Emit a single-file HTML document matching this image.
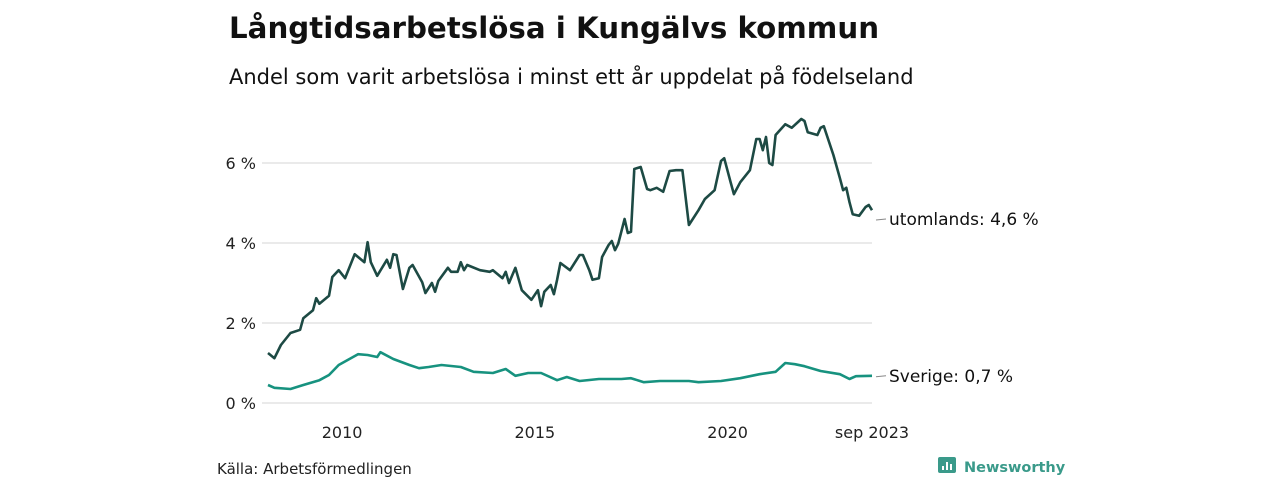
<!DOCTYPE html>
<html><head><meta charset="utf-8"><style>
body{margin:0;width:1280px;height:480px;background:#fff;overflow:hidden;font-family:"Liberation Sans","DejaVu Sans",sans-serif}
svg text{font-family:"DejaVu Sans","Liberation Sans",sans-serif}
</style></head><body>
<svg id="c" width="1280" height="480">
<text x="229" y="38" font-size="29.3" font-weight="bold" fill="#111">Långtidsarbetslösa i Kungälvs kommun</text>
<text x="229" y="84" font-size="21" fill="#111">Andel som varit arbetslösa i minst ett år uppdelat på födelseland</text>
<text x="217" y="474" font-size="15" fill="#222">Källa: Arbetsförmedlingen</text>
<g>
<rect x="938" y="457" width="18" height="16" rx="2" fill="#3a9a8a"/>
<rect x="942" y="466" width="2" height="4" fill="#fff"/><rect x="946" y="462" width="2" height="8" fill="#fff"/><rect x="950" y="464" width="2" height="6" fill="#fff"/>
<text x="964" y="472" font-size="14.5" font-weight="bold" fill="#3a9a8a">Newsworthy</text>
</g>
<g id="grid"></g><g id="lines"></g>
</svg>
<script>
const monthsU=[0,2,4,7,10,11,14,15,16,19,20,22,24,27,30,31,32,34,37,38,39,40,42,44,45,48,49,51,52,53,56,57,59,60,61,62,66,69,70,73,74,75,77,79,82,84,85,86,88,89,90,91,94,97,98,100,101,103,104,106,107,108,109,111,112,113,114,116,118,119,121,123,125,127,129,131,134,136,139,141,142,144,145,147,150,152,153,154,155,156,157,158,161,163,166,167,168,171,172,173,176,178,179,180,181,182,184,186,187,188];
const valuesU=[1.25,1.12,1.45,1.75,1.83,2.12,2.32,2.62,2.48,2.68,3.15,3.32,3.12,3.72,3.52,4.02,3.52,3.18,3.58,3.38,3.72,3.7,2.85,3.38,3.45,3.02,2.75,3.0,2.78,3.05,3.38,3.28,3.28,3.52,3.32,3.45,3.32,3.28,3.32,3.12,3.28,3.0,3.38,2.82,2.58,2.82,2.42,2.78,2.95,2.72,3.08,3.5,3.32,3.7,3.7,3.32,3.08,3.12,3.65,3.95,4.05,3.82,3.98,4.6,4.25,4.28,5.85,5.9,5.35,5.32,5.38,5.28,5.8,5.82,5.82,4.45,4.82,5.1,5.32,6.05,6.12,5.52,5.22,5.52,5.82,6.6,6.6,6.32,6.65,6.0,5.95,6.7,6.97,6.88,7.1,7.05,6.77,6.7,6.88,6.92,6.2,5.62,5.32,5.38,5.02,4.72,4.68,4.9,4.95,4.82,4.6];
const monthsS=[0,2,7,11,16,19,22,28,31,34,35,39,44,47,50,54,60,64,70,74,77,81,85,90,93,97,103,110,113,117,122,131,134,141,147,153,158,161,164,167,172,178,181,183,188];
const valuesS=[.45,.38,.35,.45,.57,.7,.95,1.22,1.2,1.15,1.27,1.1,.95,.87,.9,.95,.9,.78,.75,.85,.68,.75,.75,.57,.65,.55,.6,.6,.62,.52,.55,.55,.52,.55,.62,.72,.78,1.0,.97,.92,.8,.72,.6,.67,.68];
const yTicks=[0,2,4,6];
const xTickMonths=[24,84,144,188];
const xTickLabels=["2010","2015","2020","sep 2023"];
const labelU="utomlands: 4,6 %", labelS="Sverige: 0,7 %";
const NS="http://www.w3.org/2000/svg";
const X=m=>268+m*(872-268)/188, Y=v=>403-v*40;
const grid=document.getElementById('grid'), lines=document.getElementById('lines');
function mk(tag,attrs,parent){const e=document.createElementNS(NS,tag);for(const k in attrs)e.setAttribute(k,attrs[k]);parent.appendChild(e);return e;}
yTicks.forEach(t=>{
 const l=mk('line',{x1:262,x2:872,y1:Y(t),y2:Y(t),stroke:'#ddd','stroke-width':1.3},grid);
 
 
 const tx=mk('text',{x:256,y:Y(t)+6,'font-size':16,'text-anchor':'end',fill:'#222'},grid);
 tx.textContent=t+' %';
 
 
});
xTickMonths.forEach((m,i)=>{
 const tx=mk('text',{x:i==3?X(m):X(m)-3,y:438,'font-size':16,'text-anchor':'middle',fill:'#222'},grid);
 tx.textContent=xTickLabels[i];
 
 
});
function series(ms,vs,color,label,name){
 const d=ms.map((m,i)=>(i?'L':'M')+X(m).toFixed(1)+','+Y(vs[i]).toFixed(1)).join('');
 const p=mk('path',{d:d,fill:'none',stroke:color,'stroke-width':2.6,'stroke-linejoin':'round'},lines);
 
 
 const ly=Y(vs[vs.length-1]);
 const tk=mk('line',{x1:876,x2:886,y1:ly+1,y2:ly,stroke:'#888','stroke-width':1},lines);
 
 
 const t=mk('text',{x:889,y:ly+6,'font-size':17,fill:'#111'},lines);
 t.textContent=label;
 
 
}
series(monthsS,valuesS,'#17927f',labelS,'sverige');
series(monthsU,valuesU,'#1d4a44',labelU,'utomlands');
</script>
</body></html>
